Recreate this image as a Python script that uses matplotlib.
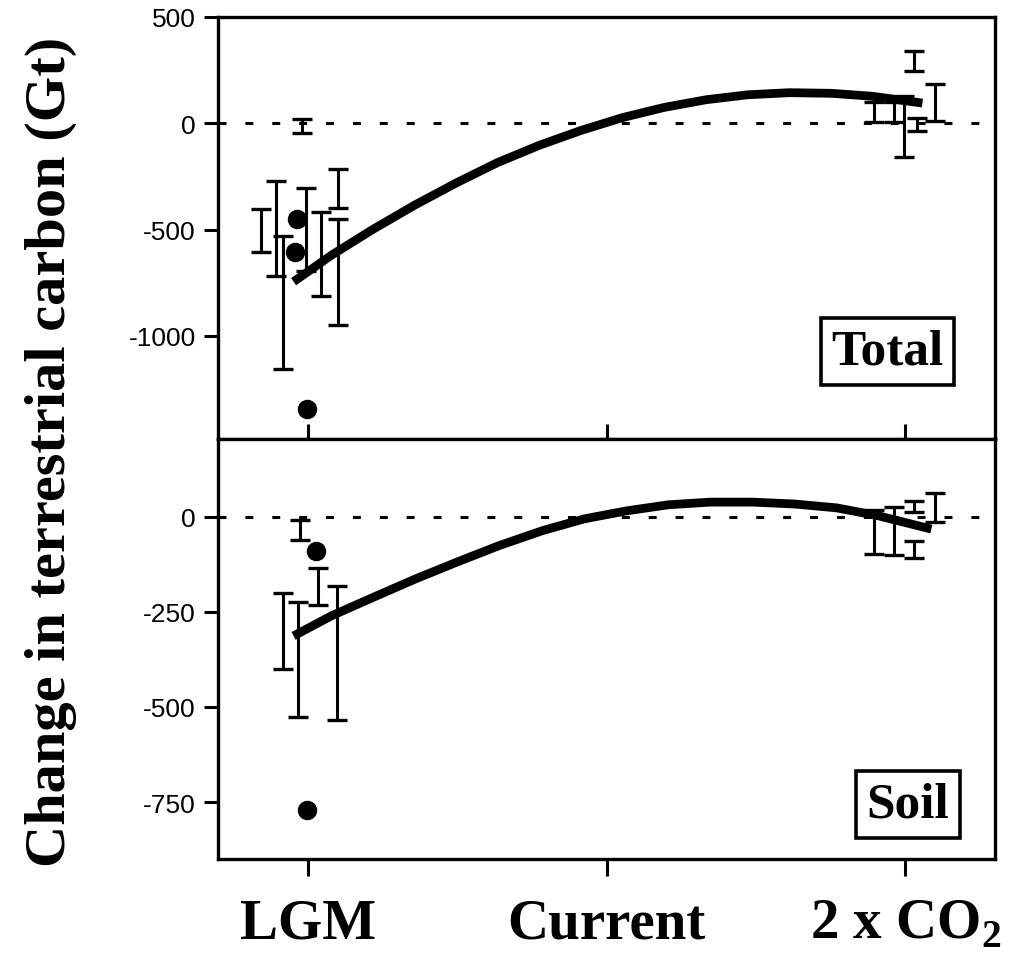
import numpy as np
import matplotlib
matplotlib.use('Agg')
import matplotlib.pyplot as plt

plt.rcParams['mathtext.fontset'] = 'custom'
plt.rcParams['mathtext.rm'] = 'Liberation Serif:bold'
plt.rcParams['mathtext.bf'] = 'Liberation Serif:bold'
plt.rcParams['axes.unicode_minus'] = False

# x positions: 0 = LGM, 1 = Current, 2 = 2 x CO2
x_labels = ['LGM', 'Current', '2 x CO$_2$']

# Total carbon: error bars (x, low, high)
tot_bar_x = [-0.157, -0.107, -0.084, -0.020, -0.007, 0.043, 0.100, 0.100,
             1.896, 1.963, 1.997, 2.030, 2.040, 2.100]
tot_bar_lo = [-606, -718, -1155, -47, -695, -812, -399, -948,
              5, 5, -160, 246, -35, 11]
tot_bar_hi = [-404, -272, -530, 19, -305, -418, -216, -451,
              99, 99, 130, 340, 25, 183]
# Total carbon: single points
tot_pt_x = [-0.037, -0.043, -0.003]
tot_pt_y = [-451, -606, -1343]
# Total carbon: fitted curve
tot_curve_x = [-0.047, 0.080, 0.217, 0.358, 0.498, 0.635, 0.776, 0.916,
               1.054, 1.194, 1.334, 1.472, 1.612, 1.753, 1.890, 2.057]
tot_curve_y = [-745, -620, -500, -385, -280, -185, -103, -33,
               27, 75, 111, 134, 144, 141, 127, 95]

# Soil carbon
soil_bar_x = [-0.027, 0.033, -0.084, -0.033, 0.097,
              1.896, 1.963, 2.030, 2.030, 2.100]
soil_bar_lo = [-61, -232, -400, -526, -534, -97, -100, 13, -108, -13]
soil_bar_hi = [-8, -134, -200, -224, -182, 17, 26, 43, -62, 63]
soil_pt_x = [0.027, -0.003]
soil_pt_y = [-89, -771]
soil_curve_x = [-0.047, 0.080, 0.221, 0.361, 0.502, 0.642, 0.786, 0.926,
                1.067, 1.207, 1.348, 1.488, 1.629, 1.769, 1.910, 2.087]
soil_curve_y = [-313, -260, -211, -163, -118, -75, -36, -5,
                16, 32, 39, 39, 34, 24, 3, -32]


def draw_panel(ax, bx, lo, hi, px, py, cx, cy, label, label_xy):
    bx = np.array(bx)
    lo = np.array(lo)
    hi = np.array(hi)
    mid = (lo + hi) / 2
    ax.errorbar(bx, mid, yerr=[mid - lo, hi - mid], fmt='none', ecolor='black',
                elinewidth=2.2, capsize=7, capthick=2.4, zorder=3)
    ax.plot(px, py, 'o', color='black', markersize=13, zorder=4)
    ax.plot(cx, cy, '-', color='black', lw=6.3, solid_capstyle='butt', zorder=5)
    ax.axhline(0, color='black', lw=2.2, dashes=(2.6, 6.2), zorder=2)
    ax.text(label_xy[0], label_xy[1], label, transform=ax.transAxes,
            fontsize=37, fontweight='bold', family='Liberation Serif',
            ha='center', va='center', zorder=6,
            bbox=dict(boxstyle='square,pad=0.2', fc='white', ec='black', lw=2.6))
    for s in ax.spines.values():
        s.set_linewidth(2.4)
    ax.set_xlim(-0.30, 2.30)


fig = plt.figure(figsize=(10.22, 9.62), dpi=100)
ax1 = fig.add_axes([0.2133, 0.5426, 0.7603, 0.4387])
ax2 = fig.add_axes([0.2133, 0.1060, 0.7603, 0.4366])

draw_panel(ax1, tot_bar_x, tot_bar_lo, tot_bar_hi, tot_pt_x, tot_pt_y,
           tot_curve_x, tot_curve_y, 'Total', (0.862, 0.207))
draw_panel(ax2, soil_bar_x, soil_bar_lo, soil_bar_hi, soil_pt_x, soil_pt_y,
           soil_curve_x, soil_curve_y, 'Soil', (0.888, 0.13))

ax1.set_ylim(-1485, 500)
ax1.set_yticks([500, 0, -500, -1000])
ax1.set_xticks([0, 1, 2])
ax1.tick_params(axis='x', direction='in', length=11, width=2.2, labelbottom=False)

ax2.set_ylim(-900, 205)
ax2.set_yticks([0, -250, -500, -750])
ax2.set_xticks([0, 1, 2])
ax2.set_xticklabels(x_labels, fontsize=41, fontweight='bold', family='Liberation Serif')
ax2.tick_params(axis='x', direction='out', length=12, width=2.2, pad=16)

for ax in (ax1, ax2):
    ax.tick_params(axis='y', direction='out', length=10, width=2.2, pad=6,
                   labelsize=19)
    for t in ax.get_yticklabels():
        t.set_family('Liberation Sans')

fig.text(0.05, 0.53, 'Change in terrestrial carbon (Gt)', rotation=90,
         ha='center', va='center', fontsize=42, fontweight='bold',
         family='Liberation Serif')

fig.savefig('out.png', dpi=100)
